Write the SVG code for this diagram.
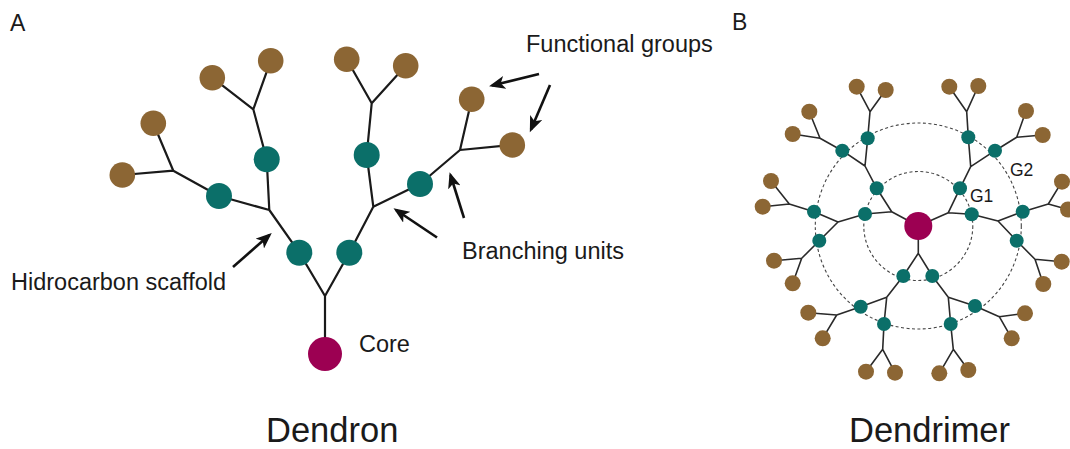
<svg xmlns="http://www.w3.org/2000/svg" width="1070" height="449" viewBox="0 0 1070 449">
<style>
.t{font-family:"Liberation Sans",Arial,sans-serif;fill:#1a1a1a}
.br{fill:#8c6634}
.tl{fill:#0b6f69}
.co{fill:#9c0052}
.e1{stroke:#1a1a1a;stroke-width:2.2;fill:none;stroke-linecap:round;stroke-linejoin:round}
.e2{stroke:#2a2a2a;stroke-width:1.6;fill:none;stroke-linecap:round;stroke-linejoin:round}
.ar{stroke:#111;stroke-width:2.6;fill:none;marker-end:url(#ah)}
.dc{stroke:#444;stroke-width:1.1;fill:none;stroke-dasharray:3 2.5}
</style>
<defs>
<marker id="ah" markerUnits="userSpaceOnUse" markerWidth="17" markerHeight="13" refX="13" refY="6.5" orient="auto">
<path d="M0,0 L16,6.5 L0,13 L4,6.5 Z" fill="#111"/>
</marker>
</defs>
<rect width="1070" height="449" fill="#fff"/>

<!-- Dendron -->
<g id="dendron-connectors">
<path class="e1" d="M325,354 L325,296 M325,296 L299.3,252.7 M325,296 L349.3,252.7
M299.3,252.7 L269.3,210 L219,196 M269.3,210 L266.7,159.3
M219,196 L173.3,170.7 L153.3,123.3 M173.3,170.7 L122.3,175
M266.7,159.3 L253.3,109.3 L212.3,77.7 M253.3,109.3 L270.7,60.7
M349.3,252.7 L373.3,206.7 L366.7,155 M373.3,206.7 L420,184
M366.7,155 L371.7,103.3 L346.7,59.3 M371.7,103.3 L405.7,65.7
M420,184 L460,150 L471.7,99.3 M460,150 L512.3,145"/>
</g>
<g id="dendron-arrows">
<line class="ar" x1="539" y1="74" x2="492" y2="85.5"/>
<line class="ar" x1="550" y1="85" x2="531" y2="129.5"/>
<line class="ar" x1="464" y1="218" x2="450.5" y2="175"/>
<line class="ar" x1="437" y1="237.5" x2="396" y2="210"/>
<line class="ar" x1="233" y1="267" x2="269.5" y2="235"/>
</g>
<g id="dendron-core"><circle class="co" cx="325" cy="354" r="17"/></g>
<g id="dendron-b1"><circle class="tl" cx="299.3" cy="252.7" r="13"/></g>
<g id="dendron-b2"><circle class="tl" cx="349.3" cy="252.7" r="13"/></g>
<g id="dendron-b3"><circle class="tl" cx="219" cy="196" r="13"/></g>
<g id="dendron-b4"><circle class="tl" cx="266.7" cy="159.3" r="13"/></g>
<g id="dendron-b5"><circle class="tl" cx="366.7" cy="155" r="13"/></g>
<g id="dendron-b6"><circle class="tl" cx="420" cy="184" r="13"/></g>
<g id="dendron-f1"><circle class="br" cx="153.3" cy="123.3" r="12.8"/></g>
<g id="dendron-f2"><circle class="br" cx="122.3" cy="175" r="12.8"/></g>
<g id="dendron-f3"><circle class="br" cx="212.3" cy="77.7" r="12.8"/></g>
<g id="dendron-f4"><circle class="br" cx="270.7" cy="60.7" r="12.8"/></g>
<g id="dendron-f5"><circle class="br" cx="346.7" cy="59.3" r="12.8"/></g>
<g id="dendron-f6"><circle class="br" cx="405.7" cy="65.7" r="12.8"/></g>
<g id="dendron-f7"><circle class="br" cx="471.7" cy="99.3" r="12.8"/></g>
<g id="dendron-f8"><circle class="br" cx="512.3" cy="145" r="12.8"/></g>

<g id="dendron-labels">
<text class="t" x="10" y="31" font-size="23">A</text>
<text class="t" x="526" y="52" font-size="23.5">Functional groups</text>
<text class="t" x="462" y="259" font-size="23.5">Branching units</text>
<text class="t" x="11" y="290" font-size="23.5">Hidrocarbon scaffold</text>
<text class="t" x="359" y="352" font-size="23.5">Core</text>
<text class="t" x="266" y="442" font-size="34.5">Dendron</text>
</g>

<!-- Dendrimer -->
<g id="dendrimer-generations">
<circle class="dc" cx="918.3" cy="226" r="54.5"/>
<circle class="dc" cx="918.3" cy="226" r="103"/>
</g>
<g id="dendrimer-connectors">
<path class="e2" d="M918.3,226 L891.7,211.7 L876.7,188.3 M891.7,211.7 L865,214
M918.3,226 L948.3,212.7 L960,188.3 M948.3,212.7 L971.7,214.3
M918.3,226 L918.3,253.3 L903.3,276 M918.3,253.3 L932.3,276
M876.7,188.3 L865,166 L867.7,138.3 M865,166 L842.3,150.7
M865,214 L838,222 L814,211.7 M838,222 L819.3,240.7
M960,188.3 L970.7,166.7 L968.3,137.3 M970.7,166.7 L995,150.7
M971.7,214.3 L998,221 L1022.7,211.7 M998,221 L1016.7,240.7
M903.3,276 L886.7,297.3 L860.7,306.7 M886.7,297.3 L884,324
M932.3,276 L948.3,297.3 L975,306 M948.3,297.3 L950.7,324
M867.7,138.3 L870,111.7 L856.7,86.7 M870,111.7 L885.7,90
M842.3,150.7 L820,138.3 L809.3,111.7 M820,138.3 L792.7,134
M814,211.7 L789.3,204 L771,181 M789.3,204 L762.7,206.7
M819.3,240.7 L801.7,258.3 L774,260.7 M801.7,258.3 L792.7,283.3
M860.7,306.7 L836.7,315 L808.3,312.7 M836.7,315 L822.7,338.3
M884,324 L882.7,349.3 L866,371.7 M882.7,349.3 L895,372.7
M950.7,324 L953.3,349.3 L939.3,373.3 M953.3,349.3 L968.3,370
M975,306 L999.3,316.7 L1025,313.3 M999.3,316.7 L1011.7,338.3
M1016.7,240.7 L1035,259.3 L1061.7,261.7 M1035,259.3 L1043.3,284
M1022.7,211.7 L1048.3,204 L1062,181.7 M1048.3,204 L1068,209.5
M995,150.7 L1016.7,137.3 L1026,111 M1016.7,137.3 L1042.7,135
M968.3,137.3 L966.7,111.7 L949.3,86.7 M966.7,111.7 L978.3,86"/>
</g>
<g id="dendrimer-core"><circle class="co" cx="918.3" cy="226" r="14"/></g>
<g id="g1-1"><circle class="tl" cx="876.7" cy="188.3" r="7"/></g>
<g id="g1-2"><circle class="tl" cx="865" cy="214" r="7"/></g>
<g id="g1-3"><circle class="tl" cx="960" cy="188.3" r="7"/></g>
<g id="g1-4"><circle class="tl" cx="971.7" cy="214.3" r="7"/></g>
<g id="g1-5"><circle class="tl" cx="903.3" cy="276" r="7"/></g>
<g id="g1-6"><circle class="tl" cx="932.3" cy="276" r="7"/></g>
<g id="g2-1"><circle class="tl" cx="867.7" cy="138.3" r="7"/></g>
<g id="g2-2"><circle class="tl" cx="842.3" cy="150.7" r="7"/></g>
<g id="g2-3"><circle class="tl" cx="814" cy="211.7" r="7"/></g>
<g id="g2-4"><circle class="tl" cx="819.3" cy="240.7" r="7"/></g>
<g id="g2-5"><circle class="tl" cx="860.7" cy="306.7" r="7"/></g>
<g id="g2-6"><circle class="tl" cx="884" cy="324" r="7"/></g>
<g id="g2-7"><circle class="tl" cx="950.7" cy="324" r="7"/></g>
<g id="g2-8"><circle class="tl" cx="975" cy="306" r="7"/></g>
<g id="g2-9"><circle class="tl" cx="1016.7" cy="240.7" r="7"/></g>
<g id="g2-10"><circle class="tl" cx="1022.7" cy="211.7" r="7"/></g>
<g id="g2-11"><circle class="tl" cx="995" cy="150.7" r="7"/></g>
<g id="g2-12"><circle class="tl" cx="968.3" cy="137.3" r="7"/></g>
<g id="fg-1"><circle class="br" cx="856.7" cy="86.7" r="8"/></g>
<g id="fg-2"><circle class="br" cx="885.7" cy="90" r="8"/></g>
<g id="fg-3"><circle class="br" cx="809.3" cy="111.7" r="8"/></g>
<g id="fg-4"><circle class="br" cx="792.7" cy="134" r="8"/></g>
<g id="fg-5"><circle class="br" cx="771" cy="181" r="8"/></g>
<g id="fg-6"><circle class="br" cx="762.7" cy="206.7" r="8"/></g>
<g id="fg-7"><circle class="br" cx="774" cy="260.7" r="8"/></g>
<g id="fg-8"><circle class="br" cx="792.7" cy="283.3" r="8"/></g>
<g id="fg-9"><circle class="br" cx="808.3" cy="312.7" r="8"/></g>
<g id="fg-10"><circle class="br" cx="822.7" cy="338.3" r="8"/></g>
<g id="fg-11"><circle class="br" cx="866" cy="371.7" r="8"/></g>
<g id="fg-12"><circle class="br" cx="895" cy="372.7" r="8"/></g>
<g id="fg-13"><circle class="br" cx="939.3" cy="373.3" r="8"/></g>
<g id="fg-14"><circle class="br" cx="968.3" cy="370" r="8"/></g>
<g id="fg-15"><circle class="br" cx="1011.7" cy="338.3" r="8"/></g>
<g id="fg-16"><circle class="br" cx="1025" cy="313.3" r="8"/></g>
<g id="fg-17"><circle class="br" cx="1043.3" cy="284" r="8"/></g>
<g id="fg-18"><circle class="br" cx="1061.7" cy="261.7" r="8"/></g>
<g id="fg-19"><circle class="br" cx="1068" cy="209.5" r="8"/></g>
<g id="fg-20"><circle class="br" cx="1062" cy="181.7" r="8"/></g>
<g id="fg-21"><circle class="br" cx="1042.7" cy="135" r="8"/></g>
<g id="fg-22"><circle class="br" cx="1026" cy="111" r="8"/></g>
<g id="fg-23"><circle class="br" cx="978.3" cy="86" r="8"/></g>
<g id="fg-24"><circle class="br" cx="949.3" cy="86.7" r="8"/></g>

<g id="dendrimer-labels">
<text class="t" x="732" y="30" font-size="23">B</text>
<text class="t" x="970" y="202" font-size="17.5">G1</text>
<text class="t" x="1010" y="175.5" font-size="17.5">G2</text>
<text class="t" x="849" y="442" font-size="34.5">Dendrimer</text>
</g>
</svg>
